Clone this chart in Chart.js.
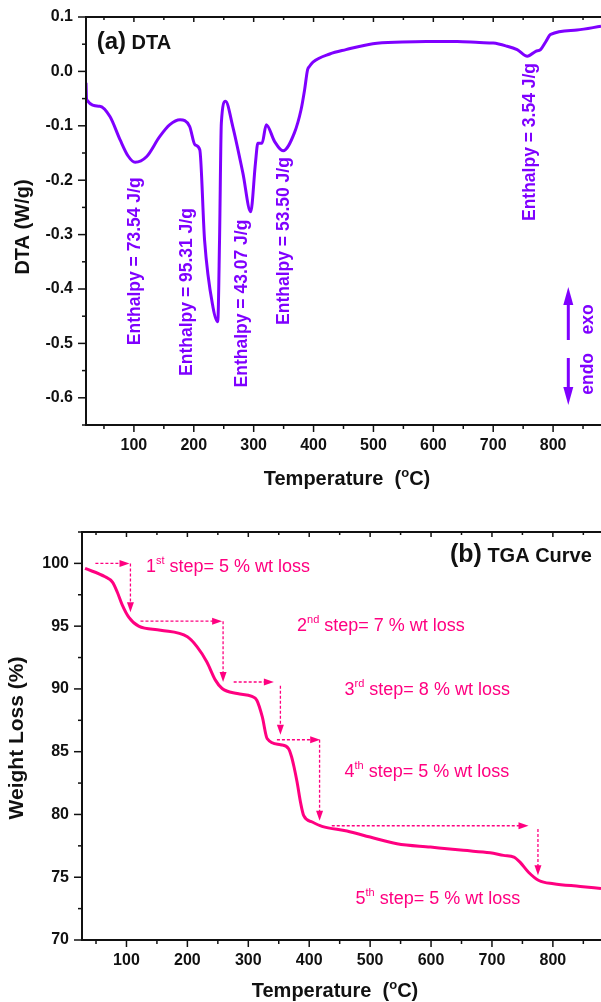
<!DOCTYPE html>
<html>
<head>
<meta charset="utf-8">
<script src="https://cdn.jsdelivr.net/npm/chart.js@4.4.1/dist/chart.umd.min.js"></script>
<style>
  body { margin: 0; background: #fff; }
  #cajaDTA { position: absolute; left: 0; top: 0; }
  #cajaTGA { position: absolute; left: 0; top: 500px; }
</style>
</head>
<body>
<canvas id="cajaDTA" width="601" height="500"></canvas>
<canvas id="cajaTGA" width="601" height="502"></canvas>
<script>
// ---- datos DTA ----
const dtaTemp = [20, 21, 43, 60, 77, 90, 102, 121, 143, 160, 177, 193, 202, 210, 218, 232, 240, 243, 246, 253,
  265, 282, 295, 303, 307, 314, 321, 335, 349, 368, 379, 385, 390, 393, 399, 427, 454, 499, 548, 588,
  640, 677, 700, 721, 740, 757, 771, 779, 788, 796, 840, 880];
const dtaValor = [-0.021, -0.052, -0.064, -0.083, -0.126, -0.155, -0.167, -0.157, -0.120, -0.098, -0.089, -0.101, -0.135, -0.144, -0.310, -0.433, -0.460, -0.310, -0.095, -0.055,
  -0.101, -0.187, -0.258, -0.168, -0.132, -0.132, -0.098, -0.129, -0.146, -0.113, -0.071, -0.034, 0.003, 0.009, 0.017, 0.032, 0.040, 0.051, 0.054, 0.055,
  0.055, 0.053, 0.052, 0.047, 0.040, 0.028, 0.037, 0.040, 0.055, 0.068, 0.076, 0.083];
const dtaTicksX = [100, 200, 300, 400, 500, 600, 700, 800];
const dtaTicksY = [-0.6, -0.5, -0.4, -0.3, -0.2, -0.1, 0.0, 0.1];
const dtaEtiquetasY = ['-0.6', '-0.5', '-0.4', '-0.3', '-0.2', '-0.1', '0.0', '0.1'];

const entalpiaTexto = ['Enthalpy = 73.54 J/g', 'Enthalpy = 95.31 J/g', 'Enthalpy = 43.07 J/g', 'Enthalpy = 53.50 J/g', 'Enthalpy = 3.54 J/g'];
const entalpiaT = [101.8, 189.5, 281.4, 350.7, 761.5];
const entalpiaV = [-0.349, -0.4055, -0.4267, -0.3118, -0.1298];

// ---- datos TGA ----
const tgaTemp = [32, 65, 77, 85, 93, 104, 120, 156, 200, 216, 232, 246, 257, 282, 306, 314, 323, 331, 353, 366,
  371, 375, 380, 386, 391, 405, 421, 462, 500, 544, 599, 653, 697, 719, 736, 746, 760, 777, 801, 845, 879];
const tgaPeso = [99.6, 98.93, 98.5, 97.7, 96.7, 95.7, 95.0, 94.68, 94.15, 93.35, 92.15, 90.7, 90.03, 89.63, 89.4, 89.1, 87.77, 86.04, 85.55, 85.25,
  84.6, 83.8, 82.6, 80.9, 79.9, 79.4, 79.05, 78.68, 78.2, 77.67, 77.4, 77.14, 76.95, 76.74, 76.6, 76.2, 75.4, 74.74, 74.48, 74.27, 74.1];
const tgaTicksX = [100, 200, 300, 400, 500, 600, 700, 800];
const tgaTicksY = [70, 75, 80, 85, 90, 95, 100];

const pasoNum = ['1', '2', '3', '4', '5'];
const pasoSup = ['st', 'nd', 'rd', 'th', 'th'];
const pasoTexto = [' step= 5 % wt loss', ' step= 7 % wt loss', ' step= 8 % wt loss', ' step= 5 % wt loss', ' step= 5 % wt loss'];
const pasoT = [132, 380, 458, 458, 476];
const pasoV = [99.33, 94.6, 89.5, 82.98, 72.9];

// flechas punteadas: tramo horizontal y luego bajada vertical
const flechaIni = [49, 123, 276, 347, 437];
const flechaFin = [105, 257, 342, 418, 760];
const flechaNivel = [100, 95.4, 90.55, 85.95, 79.1];
const flechaBajaT = [106.5, 258.6, 352.7, 417, 775.5];
const flechaBajaDesde = [100, 95.4, 90.25, 85.95, 78.85];
const flechaBajaHasta = [96.1, 90.55, 86.35, 79.5, 75.15];

const colorDTA = '#7f00ff';
const colorTGA = '#ff0080';
const negro = '#111';
const fuente = '"Liberation Sans", Arial, sans-serif';

Chart.defaults.font.family = fuente;

function linea(ctx, x1, y1, x2, y2) {
  ctx.beginPath();
  ctx.moveTo(x1, y1);
  ctx.lineTo(x2, y2);
  ctx.stroke();
}

// escribe varios trozos seguidos (para superindices)
function trozos(ctx, partes, x, y, alinear) {
  let ancho = 0;
  partes.forEach(p => { ctx.font = p[1]; ancho += ctx.measureText(p[0]).width; });
  let cx = x;
  if (alinear === 'center') cx = x - ancho / 2;
  if (alinear === 'right') cx = x - ancho;
  ctx.textAlign = 'left';
  ctx.textBaseline = 'alphabetic';
  partes.forEach(p => {
    ctx.font = p[1];
    ctx.fillText(p[0], cx, y + (p[2] || 0));
    cx += ctx.measureText(p[0]).width;
  });
}

function rotado(ctx, txt, x, y, font, color) {
  ctx.save();
  ctx.translate(x, y);
  ctx.rotate(-Math.PI / 2);
  ctx.font = font;
  ctx.fillStyle = color;
  ctx.textAlign = 'center';
  ctx.textBaseline = 'middle';
  ctx.fillText(txt, 0, 0);
  ctx.restore();
}

function cabeza(ctx, x, y, dir, largo, ancho) {
  // dir: 'r' derecha, 'u' arriba, 'd' abajo
  ctx.beginPath();
  if (dir === 'r') { ctx.moveTo(x, y); ctx.lineTo(x - largo, y - ancho / 2); ctx.lineTo(x - largo, y + ancho / 2); }
  if (dir === 'u') { ctx.moveTo(x, y); ctx.lineTo(x - ancho / 2, y + largo); ctx.lineTo(x + ancho / 2, y + largo); }
  if (dir === 'd') { ctx.moveTo(x, y); ctx.lineTo(x - ancho / 2, y - largo); ctx.lineTo(x + ancho / 2, y - largo); }
  ctx.closePath();
  ctx.fill();
}

// marco: ejes izquierdo, inferior y superior con marcas mayores y menores
const marco = {
  id: 'marco',
  afterDraw(chart, args, opts) {
    const ctx = chart.ctx, a = chart.chartArea;
    const sx = chart.scales.x, sy = chart.scales.y;
    ctx.save();
    ctx.strokeStyle = negro;
    ctx.lineWidth = 1.5;
    for (let t = Math.ceil(sx.min / opts.pasoX) * opts.pasoX; t <= sx.max; t += opts.pasoX) {
      const px = sx.getPixelForValue(t);
      const mayor = t % (2 * opts.pasoX) === 0;
      linea(ctx, px, a.bottom, px, a.bottom + (mayor ? 7 : 4));
      linea(ctx, px, a.top, px, a.top + (mayor ? 5 : 3));
    }
    const n = Math.round((sy.max - sy.min) / opts.pasoY);
    for (let k = 0; k <= n; k++) {
      const v = sy.min + k * opts.pasoY;
      const q = v / (2 * opts.pasoY);
      const mayor = Math.abs(q - Math.round(q)) < 1e-6;
      const py = sy.getPixelForValue(v);
      linea(ctx, a.left, py, a.left - (mayor ? 8 : 4), py);
    }
    ctx.lineWidth = 2;
    linea(ctx, a.left - 1, a.top, a.right, a.top);
    linea(ctx, a.left - 1, a.bottom, a.right, a.bottom);
    linea(ctx, a.left, a.top, a.left, a.bottom);
    ctx.restore();
  }
};

// textos y flechas del DTA
const notasDTA = {
  id: 'notasDTA',
  afterDraw(chart) {
    const ctx = chart.ctx, sx = chart.scales.x, sy = chart.scales.y;
    ctx.save();
    ctx.fillStyle = negro;
    trozos(ctx, [['(a)', 'bold 24px ' + fuente], [' DTA', 'bold 20px ' + fuente]],
      sx.getPixelForValue(37.9), sy.getPixelForValue(0.0412), 'left');
    for (let i = 0; i < entalpiaTexto.length; i++) {
      rotado(ctx, entalpiaTexto[i], sx.getPixelForValue(entalpiaT[i]), sy.getPixelForValue(entalpiaV[i]),
        'bold 17.5px ' + fuente, colorDTA);
    }
    rotado(ctx, 'exo', sx.getPixelForValue(858.3), sy.getPixelForValue(-0.456), 'bold 17.5px ' + fuente, colorDTA);
    rotado(ctx, 'endo', sx.getPixelForValue(858.3), sy.getPixelForValue(-0.556), 'bold 17.5px ' + fuente, colorDTA);
    ctx.strokeStyle = colorDTA;
    ctx.fillStyle = colorDTA;
    ctx.lineWidth = 3;
    const ax = sx.getPixelForValue(825.4);
    linea(ctx, ax, sy.getPixelForValue(-0.4938), ax, sy.getPixelForValue(-0.3963) + 14);
    cabeza(ctx, ax, sy.getPixelForValue(-0.3963), 'u', 18, 10);
    linea(ctx, ax, sy.getPixelForValue(-0.5268), ax, sy.getPixelForValue(-0.6132) - 14);
    cabeza(ctx, ax, sy.getPixelForValue(-0.6132), 'd', 18, 10);
    // titulos de ejes
    ctx.fillStyle = negro;
    rotado(ctx, 'DTA (W/g)', 23, 227, 'bold 20px ' + fuente, negro);
    trozos(ctx, [['Temperature  (', 'bold 20px ' + fuente], ['o', 'bold 13px ' + fuente, -8], ['C)', 'bold 20px ' + fuente]],
      347, 485, 'center');
    ctx.restore();
  }
};

// textos y flechas punteadas del TGA
const notasTGA = {
  id: 'notasTGA',
  afterDraw(chart) {
    const ctx = chart.ctx, sx = chart.scales.x, sy = chart.scales.y;
    ctx.save();
    ctx.fillStyle = negro;
    trozos(ctx, [['(b)', 'bold 25px ' + fuente], [' TGA Curve', 'bold 20px ' + fuente]],
      sx.getPixelForValue(864), sy.getPixelForValue(100.1), 'right');
    ctx.fillStyle = colorTGA;
    for (let i = 0; i < pasoTexto.length; i++) {
      trozos(ctx, [[pasoNum[i], '18px ' + fuente], [pasoSup[i], '11px ' + fuente, -8], [pasoTexto[i], '18px ' + fuente]],
        sx.getPixelForValue(pasoT[i]), sy.getPixelForValue(pasoV[i]), 'left');
    }
    ctx.strokeStyle = colorTGA;
    ctx.lineWidth = 1.3;
    for (let i = 0; i < flechaIni.length; i++) {
      const y = sy.getPixelForValue(flechaNivel[i]);
      const x1 = sx.getPixelForValue(flechaIni[i]);
      const x2 = sx.getPixelForValue(flechaFin[i]);
      ctx.setLineDash([3, 2]);
      linea(ctx, x1, y, x2 - 8, y);
      const xv = sx.getPixelForValue(flechaBajaT[i]);
      const y1 = sy.getPixelForValue(flechaBajaDesde[i]);
      const y2 = sy.getPixelForValue(flechaBajaHasta[i]);
      linea(ctx, xv, y1, xv, y2 - 8);
      ctx.setLineDash([]);
      cabeza(ctx, x2, y, 'r', 10, 7);
      cabeza(ctx, xv, y2, 'd', 10, 7);
    }
    ctx.fillStyle = negro;
    rotado(ctx, 'Weight Loss (%)', 17, 238, 'bold 21px ' + fuente, negro);
    trozos(ctx, [['Temperature  (', 'bold 20px ' + fuente], ['o', 'bold 13px ' + fuente, -8], ['C)', 'bold 20px ' + fuente]],
      335, 497, 'center');
    ctx.restore();
  }
};

function escalas(xMin, xMax, ticksX, yMin, yMax, ticksY, etiquetaY, anchoY, altoX) {
  return {
    x: {
      type: 'linear', min: xMin, max: xMax,
      afterBuildTicks: (s) => { s.ticks = ticksX.map(v => ({ value: v })); },
      afterFit: (s) => { s.height = altoX; s.paddingLeft = 0; s.paddingRight = 0; },
      grid: { display: false, drawTicks: false },
      border: { display: false },
      ticks: { autoSkip: false, maxRotation: 0, padding: 11, color: negro,
        font: { size: 16, weight: 'bold' }, callback: (v) => String(v) }
    },
    y: {
      type: 'linear', min: yMin, max: yMax,
      afterBuildTicks: (s) => { s.ticks = ticksY.map(v => ({ value: v })); },
      // el margen de las etiquetas no debe empujar el area del grafico
      afterFit: (s) => { s.width = anchoY; s.paddingTop = 0; s.paddingBottom = 0; },
      grid: { display: false, drawTicks: false },
      border: { display: false },
      ticks: { autoSkip: false, padding: 13, color: negro,
        font: { size: 16, weight: 'bold' }, callback: etiquetaY }
    }
  };
}

const graficoDTA = new Chart(document.getElementById('cajaDTA'), {
  type: 'line',
  data: {
    datasets: [{
      data: dtaTemp.map((t, i) => ({ x: t, y: dtaValor[i] })),
      borderColor: colorDTA,
      borderWidth: 3,
      pointRadius: 0,
      cubicInterpolationMode: 'monotone',
      fill: false
    }]
  },
  options: {
    responsive: false,
    animation: false,
    layout: { padding: { top: 17, right: 0, left: 0, bottom: 0 } },
    plugins: { legend: { display: false }, tooltip: { enabled: false }, marco: { pasoX: 50, pasoY: 0.05 } },
    scales: escalas(20, 880, dtaTicksX, -0.65, 0.1, dtaTicksY, (v, i) => dtaEtiquetasY[i], 86, 75)
  },
  plugins: [marco, notasDTA]
});

const graficoTGA = new Chart(document.getElementById('cajaTGA'), {
  type: 'line',
  data: {
    datasets: [{
      data: tgaTemp.map((t, i) => ({ x: t, y: tgaPeso[i] })),
      borderColor: colorTGA,
      borderWidth: 3,
      pointRadius: 0,
      cubicInterpolationMode: 'monotone',
      fill: false
    }]
  },
  options: {
    responsive: false,
    animation: false,
    layout: { padding: { top: 32, right: 0, left: 0, bottom: 0 } },
    plugins: { legend: { display: false }, tooltip: { enabled: false }, marco: { pasoX: 50, pasoY: 2.5 } },
    scales: escalas(27, 879, tgaTicksX, 70, 102.5, tgaTicksY, (v) => String(v), 82, 62)
  },
  plugins: [marco, notasTGA]
});
</script>
</body>
</html>
